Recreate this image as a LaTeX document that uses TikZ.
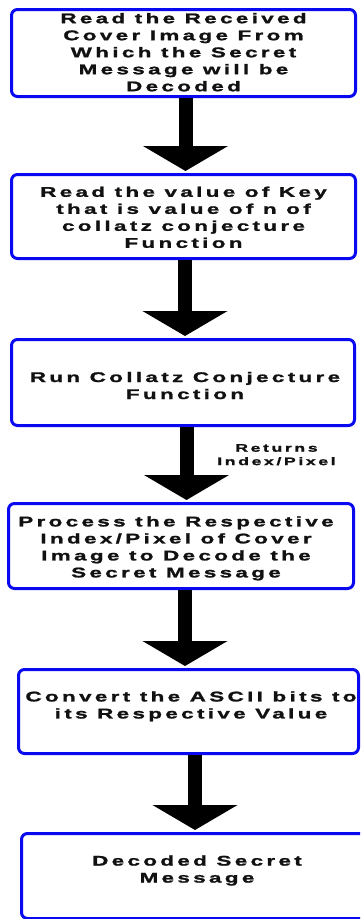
\documentclass[tikz,border=0pt]{standalone}
\usepackage{fontspec}
\usepackage{xcolor}
\usepackage{tikz}
\usetikzlibrary{arrows.meta}
\newfontfamily\flowfont[LetterSpace=24,FakeStretch=1.6,FakeBold=1.5]{Liberation Sans}
\definecolor{boxblue}{HTML}{0A0AF0}
\definecolor{ink}{HTML}{111111}
\tikzset{
  stepbox/.style={draw=boxblue, line width=3pt, rounded corners=6pt, fill=white, inner sep=0pt},
  steptext/.style={text=ink, align=center, font=\flowfont\bfseries\fontsize{14}{17}\selectfont},
  flow/.style={draw=black, line width=14pt, -{Triangle[width=84pt,length=25pt]}, shorten >=2pt},
  retlab/.style={text=ink, align=center, font=\flowfont\bfseries\fontsize{11}{13.4}\selectfont},
}
\begin{document}
\begin{tikzpicture}[x=1pt,y=-1pt]
  \useasboundingbox (0,0) rectangle (360,919);
  \clip (0,0) rectangle (360,919);
  % boxes
  \node[stepbox, minimum width=344pt, minimum height=87pt] (read) at (183.5,53) {};
  \node[stepbox, minimum width=344pt, minimum height=84pt] (key) at (183.5,216.5) {};
  \node[stepbox, minimum width=343pt, minimum height=86pt] (run) at (183,382.5) {};
  \node[stepbox, minimum width=345pt, minimum height=85pt] (proc) at (181,546) {};
  \node[stepbox, minimum width=340pt, minimum height=84pt] (conv) at (188.5,711.5) {};
  \node[stepbox, minimum width=351pt, minimum height=85pt] (dec) at (197,876) {};
  % texts
  \node[steptext] (readtxt) at (183.5,52.2) {Read the Received\\Cover Image From\\Which the Secret\\Message will be\\Decoded};
  \node[steptext] (keytxt) at (183.5,217.3) {Read the value of Key\\that is value of n of\\collatz conjecture\\Function};
  \node[steptext] (runtxt) at (185,385.5) {Run Collatz Conjecture\\Function};
  \node[steptext] (proctxt) at (176,548.3) {Process the Respective\\Index/Pixel of Cover\\Image to Decode the\\Secret Message};
  \node[steptext] (convtxt) at (191,706.3) {Convert the ASCII bits to\\its Respective Value};
  \node[steptext] (dectxt) at (197,870.5) {Decoded Secret\\Message};
  % arrows
  \draw[flow] ([xshift=2pt]read.south) -- ([xshift=2pt]key.north);
  \draw[flow] ([xshift=1.5pt]key.south) -- ([xshift=2pt]run.north);
  \draw[flow] ([xshift=3.5pt]run.south) -- node[retlab, pos=0.37, xshift=90pt] (ret) {Returns\\Index/Pixel} ([xshift=5.5pt]proc.north);
  \draw[flow] ([xshift=4pt]proc.south) -- ([xshift=-3.5pt]conv.north);
  \draw[flow] ([xshift=6.5pt]conv.south) -- ([xshift=-2pt]dec.north);
\end{tikzpicture}
\end{document}
